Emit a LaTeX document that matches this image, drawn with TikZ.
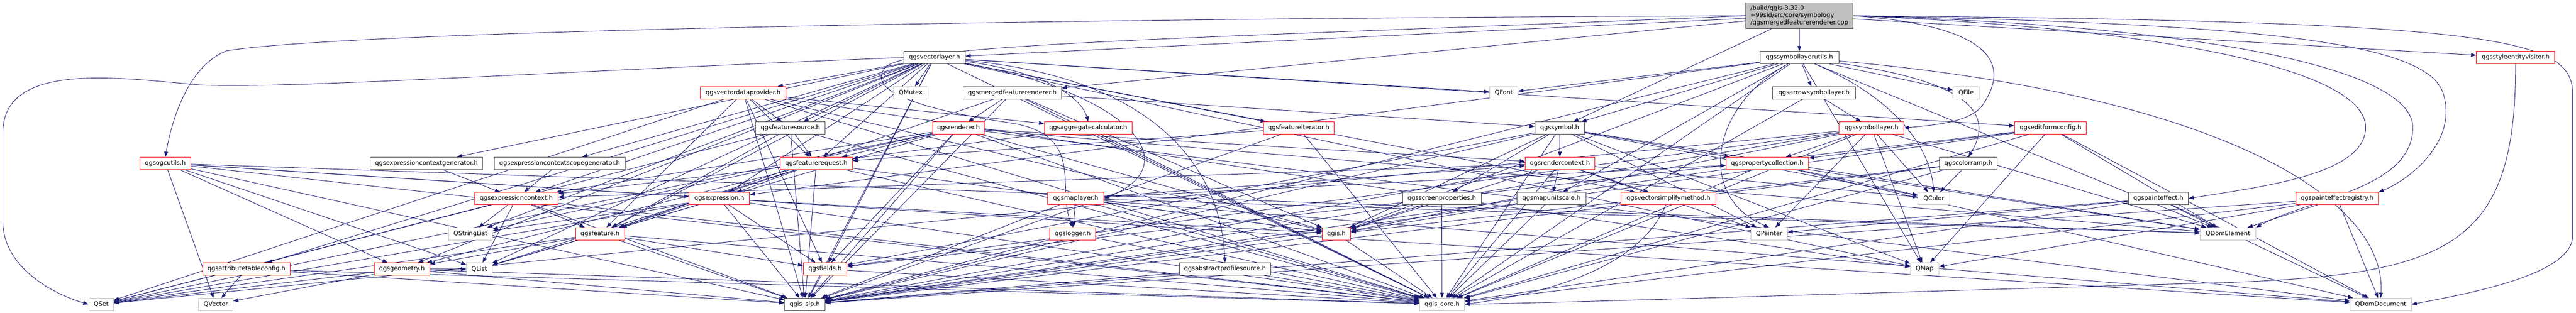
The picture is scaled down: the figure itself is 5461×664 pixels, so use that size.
\documentclass[tikz,border=0pt]{standalone}
\usepackage{fontspec}
\setmainfont{DejaVu Sans}
\usetikzlibrary{arrows.meta,backgrounds}
\definecolor{edgec}{HTML}{191970}
\definecolor{extb}{HTML}{BFBFBF}
\definecolor{docb}{HTML}{404040}
\definecolor{trunc}{HTML}{FF0000}
\tikzset{
  nd/.style={rectangle, inner sep=0pt, minimum height=26pt, fill=white, line width=1pt,
    font=\fontsize{13}{15.3}\selectfont},
  blk/.style={nd, draw=docb},
  trn/.style={nd, draw=trunc},
  ext/.style={nd, draw=extb},
  rootn/.style={rectangle, inner sep=0pt, minimum width=227pt, minimum height=55pt,
    fill=extb, draw=docb, line width=1pt, align=left, font=\fontsize{13}{15.3}\selectfont},
  edge/.style={draw=edgec, line width=1pt, -{Triangle[length=11pt,width=8pt]}}
}
\newcommand{\fan}[2]{\foreach \tg in {#2} {\draw[edge] (#1) -- (\tg);}}
\begin{document}
\begin{tikzpicture}[x=1pt,y=1pt]
\useasboundingbox (0,0) rectangle (5461,-664);
% root
\node[rootn] (root) at (3814.5,-33.5) {/build/qgis-3.32.0\\+99sid/src/core/symbology\\/qgsmergedfeaturerenderer.cpp};
% row 1
\node[blk, minimum width=167pt] (symlu) at (3814.5,-122) {qgssymbollayerutils.h};
\node[blk, minimum width=130pt] (vl) at (1981,-122) {qgsvectorlayer.h};
\node[trn, minimum width=166pt] (sev) at (5333,-122) {qgsstyleentityvisitor.h};
% row 2
\node[ext, minimum width=73pt] (qmutex) at (1930.5,-196.8) {QMutex};
\node[blk, minimum width=208pt] (mfr) at (2146,-196.8) {qgsmergedfeaturerenderer.h};
\node[trn, minimum width=181pt] (vdp) at (1575.5,-196.8) {qgsvectordataprovider.h};
\node[ext, minimum width=60pt] (qfont) at (3188,-196.8) {QFont};
\node[blk, minimum width=175pt] (arrow) at (3845.5,-196.8) {qgsarrowsymbollayer.h};
\node[ext, minimum width=56pt] (qfile) at (4168,-196.8) {QFile};
% row 3
\node[blk, minimum width=147pt] (fsrc) at (1675.5,-271.6) {qgsfeaturesource.h};
\node[trn, minimum width=110pt] (rend) at (2032,-271.6) {qgsrenderer.h};
\node[trn, minimum width=186pt] (aggc) at (2307,-271.6) {qgsaggregatecalculator.h};
\node[trn, minimum width=150pt] (fit) at (2753,-271.6) {qgsfeatureiterator.h};
\node[blk, minimum width=105pt] (sym) at (3306.5,-271.6) {qgssymbol.h};
\node[trn, minimum width=137pt] (sl) at (3967.5,-271.6) {qgssymbollayer.h};
\node[trn, minimum width=152pt] (efc) at (4347,-271.6) {qgseditformconfig.h};
% row 4
\node[trn, minimum width=109pt] (ogc) at (350.5,-346.4) {qgsogcutils.h};
\node[blk, minimum width=238pt] (ecg) at (904,-346.4) {qgsexpressioncontextgenerator.h};
\node[blk, minimum width=277pt] (ecsg) at (1186.5,-346.4) {qgsexpressioncontextscopegenerator.h};
\node[trn, minimum width=153pt] (freq) at (1730.5,-346.4) {qgsfeaturerequest.h};
\node[trn, minimum width=148pt] (rctx) at (3307,-346.4) {qgsrendercontext.h};
\node[trn, minimum width=175pt] (pcol) at (3746.5,-346.4) {qgspropertycollection.h};
\node[blk, minimum width=122pt] (cramp) at (4173,-346.4) {qgscolorramp.h};
% row 5
\node[trn, minimum width=177pt] (ectx) at (1094.5,-421.2) {qgsexpressioncontext.h};
\node[trn, minimum width=128pt] (expr) at (1525,-421.2) {qgsexpression.h};
\node[trn, minimum width=119pt] (ml) at (2280.5,-421.2) {qgsmaplayer.h};
\node[blk, minimum width=167pt] (scrp) at (3056.5,-421.2) {qgsscreenproperties.h};
\node[blk, minimum width=146pt] (mus) at (3289,-421.2) {qgsmapunitscale.h};
\node[trn, minimum width=200pt] (vsm) at (3537,-421.2) {qgsvectorsimplifymethod.h};
\node[ext, minimum width=67pt] (qcolor) at (4099.5,-421.2) {QColor};
\node[blk, minimum width=127pt] (pe) at (4575.5,-421.2) {qgspainteffect.h};
\node[trn, minimum width=175pt] (per) at (4954.5,-421.2) {qgspainteffectregistry.h};
% row 6
\node[ext, minimum width=93pt] (qsl) at (997.5,-496) {QStringList};
\node[trn, minimum width=104pt] (feat) at (1272,-496) {qgsfeature.h};
\node[trn, minimum width=98pt] (logger) at (2274,-496) {qgslogger.h};
\node[trn, minimum width=60pt] (qgis) at (2833,-496) {qgis.h};
\node[ext, minimum width=77pt] (qpainter) at (3750.5,-496) {QPainter};
\node[ext, minimum width=118pt] (qdomel) at (4723,-496) {QDomElement};
% row 7
\node[trn, minimum width=185pt] (atc) at (522.5,-570.8) {qgsattributetableconfig.h};
\node[trn, minimum width=118pt] (geom) at (852,-570.8) {qgsgeometry.h};
\node[ext, minimum width=54pt] (qlist) at (1016,-570.8) {QList};
\node[trn, minimum width=92pt] (fields) at (1749,-570.8) {qgsfields.h};
\node[blk, minimum width=194pt] (aps) at (2597,-570.8) {qgsabstractprofilesource.h};
\node[ext, minimum width=60pt] (qmap) at (4080,-570.8) {QMap};
% row 8
\node[ext, minimum width=53pt] (qset) at (214.5,-645.6) {QSet};
\node[ext, minimum width=73pt] (qvec) at (457.5,-645.6) {QVector};
\node[blk, minimum width=86pt] (sip) at (1706,-645.6) {qgis\_sip.h};
\node[ext, minimum width=96pt] (core) at (3057,-645.6) {qgis\_core.h};
\node[ext, minimum width=130pt] (qdomdoc) at (5047,-645.6) {QDomDocument};

\begin{scope}[on background layer]
% root
\fan{root}{symlu,mfr,vl,sym,sev}
\draw[edge] (root.west) .. controls (2000,-40) and (700,-70) .. (480,-108) .. controls (400,-140) and (365,-250) .. (ogc.north);
\draw[edge] (root.west) .. controls (2600,-80) and (1950,-90) .. (1880,-140) .. controls (1820,-200) and (2000,-240) .. (2150,-262) .. controls (2300,-290) and (2240,-400) .. (logger.north);
\draw[edge] (root.east) .. controls (4300,-60) and (4230,-180) .. (4205,-220) .. controls (4180,-260) and (4100,-265) .. (sl.east);
\draw[edge] (root.east) .. controls (4600,-60) and (5015,-150) .. (5015,-270) .. controls (5015,-370) and (4800,-395) .. (pe.east);
\draw[edge] (root.east) .. controls (4700,-55) and (5115,-150) .. (5115,-270) .. controls (5115,-400) and (4900,-420) .. (qdomel.north east);
\draw[edge] (root.east) .. controls (4800,-50) and (5150,-90) .. (5180,-200) .. controls (5210,-300) and (5110,-380) .. (per.north east);
\draw[edge] (root.east) .. controls (5300,-45) and (5454,-80) .. (5454,-200) -- (5454,-500) .. controls (5454,-580) and (5250,-620) .. (qdomdoc.east);
% qgssymbollayerutils.h
\fan{symlu}{arrow,qfile,qmap,sym,qgis,mus,core,sip,qfont,qdomel,expr}
\draw[edge] (symlu) .. controls (4150,-170) and (4235,-230) .. (cramp.north);
\draw[edge] (symlu) .. controls (4000,-200) and (4090,-300) .. (qcolor.north);
\draw[edge] (symlu) .. controls (3620,-230) and (3600,-420) .. (qpainter.north);
\draw[edge] (symlu) .. controls (4700,-200) and (5060,-420) .. (qdomdoc.north);
% qgsvectorlayer.h
\fan{vl}{qmutex,qfont,core,sip,qmap,qlist,qsl,feat,freq,fsrc,fields,vdp,vsm,efc,atc,ecg,ecsg,ectx,expr,geom,fit}
\draw[edge] (vl) .. controls (2400,-200) and (2520,-350) .. (ml.east);
\draw[edge] (vl) .. controls (2200,-150) and (2290,-200) .. (aggc.north);
\draw[edge] (vl) .. controls (2500,-170) and (2590,-400) .. (aps.north);
\draw[edge] (vl.west) .. controls (1200,-150) and (600,-190) .. (420,-180) .. controls (250,-165) and (8,-130) .. (6,-280) -- (6,-470) .. controls (6,-560) and (100,-620) .. (qset.west);
% others
\fan{mfr}{rend,core,sip,qgis,sym,feat}
\fan{vdp}{fsrc,freq,feat,fields,aggc,core,sip,qset,qmap,qgis}
\fan{arrow}{sl,core}
\fan{fsrc}{freq,feat,core,sip,qset}
\fan{rend}{freq,core,sip,qgis,feat,fields,rctx,qdomel,qdomdoc,qset,qsl,ectx}
\fan{aggc}{freq,core}
\fan{fit}{freq,core,sip}
\fan{sym}{rctx,scrp,qgis,core,sip,pcol,qcolor,qmap,qpainter,qdomel,fields}
\fan{sl}{pcol,qcolor,qmap,qpainter,core,sip,qgis,qset,qdomel,fields}
\fan{efc}{pcol,qmap,core,sip,qdomdoc,qdomel,fields}
\fan{ogc}{qvec,geom,core,sip,expr,qdomdoc,qdomel,qlist}
\fan{ecg}{ectx}
\fan{ecsg}{ectx}
\fan{freq}{expr,ectx,sip,core,qlist,qgis,geom,feat}
\fan{rctx}{mus,vsm,qgis,core,sip,qpainter,qcolor,ectx}
\fan{pcol}{qcolor,core,sip,qdomel,qdomdoc}
\fan{cramp}{qcolor,core,sip,qgis}
\fan{ectx}{qsl,feat,sip,core,qset,qlist}
\fan{expr}{qsl,qlist,qset,core,sip,fields,qgis}
\fan{ml}{logger,core,sip,qgis,qdomdoc,qdomel,pcol,rctx}
\fan{scrp}{qgis,core}
\fan{mus}{qgis,core}
\draw[edge] (vsm) .. controls (3480,-560) and (3300,-620) .. (core.east);
\fan{pe}{qdomel,qdomdoc,core,sip,qpainter}
\fan{per}{qdomel,qdomdoc,core,sip,qmap}
\fan{feat}{qlist,fields,geom,sip,core,qset}
\fan{logger}{core,sip}
\fan{qgis}{core,sip}
\fan{atc}{qvec,core,sip}
\fan{geom}{qset,qvec,core,sip,qlist}
\fan{fields}{sip,core}
\fan{aps}{core,sip}
\draw[edge] (sev.south) .. controls (5333,-520) and (5200,-585) .. (4700,-600) .. controls (4000,-620) and (3400,-640) .. (core.east);
\end{scope}
\end{tikzpicture}
\end{document}
